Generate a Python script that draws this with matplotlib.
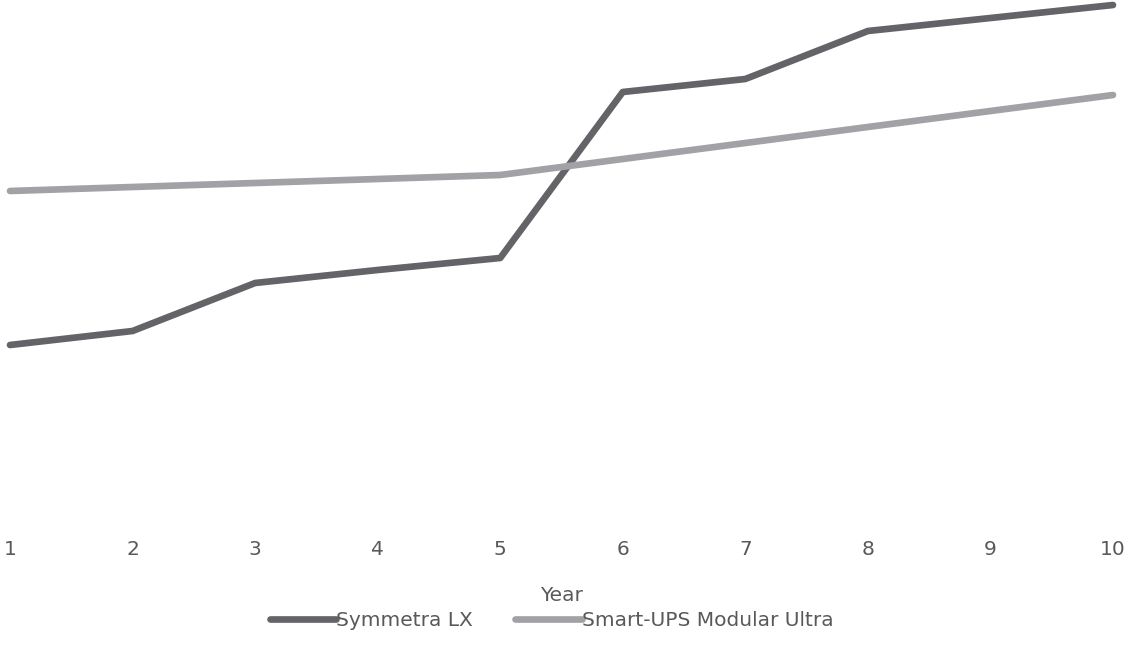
import matplotlib
matplotlib.use("Agg")
import matplotlib.pyplot as plt

years = [1, 2, 3, 4, 5, 6, 7, 8, 9, 10]
symmetra_lx = [180, 194, 242, 255, 267, 433, 446, 494, 507, 520]
smart_ups = [334, 338, 342, 346, 350, 366, 382, 398, 414, 430]

DARK = "#636368"
LIGHT = "#A2A2A6"
TEXT = "#595959"

W, H = 1130, 659
fig = plt.figure(figsize=(W / 100, H / 100), dpi=100)
ax = fig.add_axes([10 / W, 1 - 525 / H, 1103 / W, 525 / H])

ax.plot(years, symmetra_lx, color=DARK, lw=4.8, solid_capstyle="round",
        solid_joinstyle="round", clip_on=False, label="Symmetra LX")
ax.plot(years, smart_ups, color=LIGHT, lw=4.8, solid_capstyle="round",
        solid_joinstyle="round", clip_on=False, label="Smart-UPS Modular Ultra")

ax.set_xlim(1, 10)
ax.set_ylim(0, 525)
ax.set_xticks(years)
ax.set_yticks([])
for s in ax.spines.values():
    s.set_visible(False)
ax.tick_params(axis="x", length=0, pad=11, labelsize=14.5, labelcolor=TEXT)
ax.set_xlabel("Year", fontsize=14.5, color=TEXT, labelpad=19)

leg = fig.legend(loc="center", bbox_to_anchor=(0.488, 1 - 621 / H), ncol=2,
                 frameon=False, fontsize=14.5, handlelength=3.3,
                 handletextpad=0.0, columnspacing=2.1)
for t in leg.get_texts():
    t.set_color(TEXT)
for h in leg.get_lines():
    h.set_linewidth(4.8)
    h.set_solid_capstyle("round")

fig.savefig("out.png", dpi=100)
